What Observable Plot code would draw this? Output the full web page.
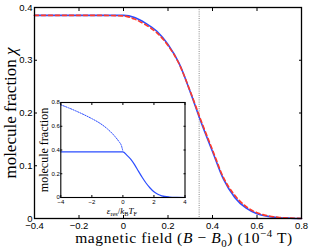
<!DOCTYPE html>
<html><head><meta charset="utf-8">
<script src="https://cdn.jsdelivr.net/npm/d3@7"></script>
<script src="https://cdn.jsdelivr.net/npm/@observablehq/plot@0.6"></script>
<style>body{margin:0;background:#fff}</style>
</head><body><div id="chart"></div>
<script>
// ---- main panel data ----
const fieldB = [-0.4, -0.3, -0.2, -0.1, 0, 0.05, 0.1, 0.15, 0.2, 0.25, 0.3, 0.35, 0.4, 0.45, 0.5, 0.55, 0.6, 0.65, 0.7, 0.75, 0.8];
const fracBlue = [0.385, 0.385, 0.385, 0.385, 0.385, 0.381, 0.370, 0.355, 0.330, 0.294, 0.240, 0.181, 0.127, 0.074, 0.040, 0.020, 0.009, 0.004, 0.0015, 0.0005, 0];
const fracRed  = [0.385, 0.385, 0.385, 0.385, 0.384, 0.378, 0.367, 0.352, 0.328, 0.293, 0.241, 0.184, 0.130, 0.077, 0.044, 0.023, 0.011, 0.005, 0.002, 0.0007, 0];
const resonanceB = [0.34];
const xTicks = [-0.4, -0.2, 0, 0.2, 0.4, 0.6, 0.8];
const yTicks = [0, 0.1, 0.2, 0.3, 0.4];
const xLabel = "magnetic field (B − B0) (10−4 T)";
const yLabel = "molecule fraction χ";

// ---- inset data ----
const insetE = [-4, -3, -2, -1, 0, 0.25, 0.5, 0.75, 1, 1.25, 1.5, 1.75, 2, 2.25, 2.5, 3, 3.5, 4];
const insetSolid = [0.385, 0.385, 0.385, 0.385, 0.385, 0.357, 0.323, 0.277, 0.222, 0.168, 0.120, 0.080, 0.048, 0.027, 0.014, 0.004, 0.001, 0];
const insetDotE = [-4, -3.5, -3, -2.5, -2, -1.5, -1, -0.5, -0.25, -0.1, 0];
const insetDot = [0.78, 0.755, 0.727, 0.697, 0.664, 0.627, 0.578, 0.512, 0.47, 0.438, 0.39];
const insetXTicks = [-4, -2, 0, 2, 4];
const insetYTicks = [0, 0.2, 0.4, 0.6, 0.8];
const insetXLabel = "εres/kBTF";
const insetYLabel = "molecule fraction";

const BLUE = "#2b4dff", RED = "#ff3a2a";
const serif = "Liberation Serif", sans = "Liberation Sans";
const fmt = d3.format("");

const mainRows = fieldB.map((b, i) => ({b, blue: fracBlue[i], red: fracRed[i]}));
const solidRows = insetE.map((e, i) => ({e, f: insetSolid[i]}));
const dotRows = insetDotE.map((e, i) => ({e, f: insetDot[i]}));

const main = Plot.plot({
  width: 311, height: 249,
  marginTop: 7, marginRight: 10, marginBottom: 31, marginLeft: 34,
  x: {domain: [-0.4, 0.8]},
  y: {domain: [0, 0.4]},
  style: {background: "white"},
  marks: [
    Plot.ruleX(resonanceB, {stroke: "#888", strokeWidth: 1, strokeDasharray: "1,1.2"}),
    Plot.line(mainRows, {x: "b", y: "blue", stroke: BLUE, strokeWidth: 1.6, curve: "monotone-x"}),
    Plot.line(mainRows, {x: "b", y: "red", stroke: RED, strokeWidth: 1.6, strokeDasharray: "4,3", curve: "monotone-x"}),
    Plot.frame({stroke: "black", strokeWidth: 1.3}),
    Plot.axisX({ticks: xTicks, tickSize: -3, fill: "none", label: null}),
    Plot.axisX({ticks: xTicks, anchor: "top", tickSize: -3, fill: "none", label: null}),
    Plot.axisY({ticks: yTicks, tickSize: -3, fill: "none", label: null}),
    Plot.axisY({ticks: yTicks, anchor: "right", tickSize: -3, fill: "none", label: null}),
    Plot.axisX({ticks: xTicks, tickFormat: fmt, tickSize: 0, tickPadding: 4, label: null, fontSize: 9.5, fontFamily: sans, fill: "black"}),
    Plot.axisY({ticks: yTicks, tickFormat: fmt, tickSize: 0, tickPadding: 2, label: null, fontSize: 9.5, fontFamily: sans, fill: "black"}),
    Plot.text([xLabel], {frameAnchor: "bottom", text: d => d, textAnchor: "middle", dx: 16, dy: 24.5, lineAnchor: "bottom", fontSize: 15.5, fontFamily: serif, fill: "black"}),
    Plot.text([yLabel], {frameAnchor: "left", text: d => d, textAnchor: "middle", dx: -19, dy: 0, rotate: -90, lineAnchor: "bottom", fontSize: 17, fontFamily: serif, fill: "black"})
  ]
});

const inset = Plot.plot({
  width: 155, height: 124,
  marginTop: 6, marginRight: 6.5, marginBottom: 23, marginLeft: 24.3,
  x: {domain: [-4, 4]},
  y: {domain: [0, 0.8]},
  style: {background: "transparent", overflow: "visible"},
  marks: [
    Plot.frame({fill: "white", stroke: "none"}),
    Plot.line(dotRows, {x: "e", y: "f", stroke: BLUE, strokeWidth: 1, strokeDasharray: "1.3,1.3", curve: "monotone-x"}),
    Plot.line(solidRows, {x: "e", y: "f", stroke: BLUE, strokeWidth: 1.2, curve: "monotone-x"}),
    Plot.frame({stroke: "black", strokeWidth: 1.1}),
    Plot.axisX({ticks: insetXTicks, tickSize: -2, fill: "none", label: null}),
    Plot.axisX({ticks: insetXTicks, anchor: "top", tickSize: -2, fill: "none", label: null}),
    Plot.axisY({ticks: insetYTicks, tickSize: -2, fill: "none", label: null}),
    Plot.axisY({ticks: insetYTicks, anchor: "right", tickSize: -2, fill: "none", label: null}),
    Plot.axisX({ticks: insetXTicks, tickFormat: fmt, tickSize: 0, tickPadding: 2, label: null, fontSize: 6, fontFamily: sans, fill: "black"}),
    Plot.axisY({ticks: insetYTicks, tickFormat: fmt, tickSize: 0, tickPadding: 1, label: null, fontSize: 6, fontFamily: sans, fill: "black"}),
    Plot.text([insetXLabel], {frameAnchor: "bottom", text: d => d, textAnchor: "middle", dx: -1, dy: 16, lineAnchor: "bottom", fontSize: 9, fontFamily: serif, fill: "black"}),
    Plot.text([insetYLabel], {frameAnchor: "left", text: d => d, textAnchor: "middle", dx: -13.3, dy: 0, rotate: -90, lineAnchor: "bottom", fontSize: 12, fontFamily: serif, fill: "black"})
  ]
});

function rich(svg, content, parts, fs, spacing) {
  d3.select(svg).selectAll("text").filter(function() { return this.textContent === content; }).each(function() {
    const t = d3.select(this);
    t.text(null);
    if (spacing) t.attr("letter-spacing", spacing);
    let cur = 0;
    for (const [s, k] of parts) {
      const target = k === "sub" ? 0.28 * fs : k === "sup" ? -0.42 * fs : 0;
      const ts = t.append("tspan").text(s);
      if (target !== cur) ts.attr("dy", target - cur);
      cur = target;
      if (k === "i") ts.attr("font-style", "italic");
      if (k === "sub" || k === "sup") ts.attr("font-size", 0.7 * fs);
    }
  });
}
rich(main, xLabel, [["magnetic field (", ""], ["B", "i"], [" − ", ""], ["B", "i"], ["0", "sub"], [") (10", ""], ["−4", "sup"], [" T)", ""]], 15.5, 0.6);
rich(main, yLabel, [["molecule fraction ", ""], ["χ", "i"]], 17);
rich(inset, insetXLabel, [["ε", "i"], ["res", "sub"], ["/", ""], ["k", "i"], ["B", "sub"], ["T", "i"], ["F", "sub"]], 9);

inset.setAttribute("x", 36);
inset.setAttribute("y", 96);
inset.style.width = "155px";
inset.style.height = "124px";
inset.style.maxWidth = "none";
main.appendChild(inset);
document.getElementById("chart").appendChild(main);
</script>
</body></html>
